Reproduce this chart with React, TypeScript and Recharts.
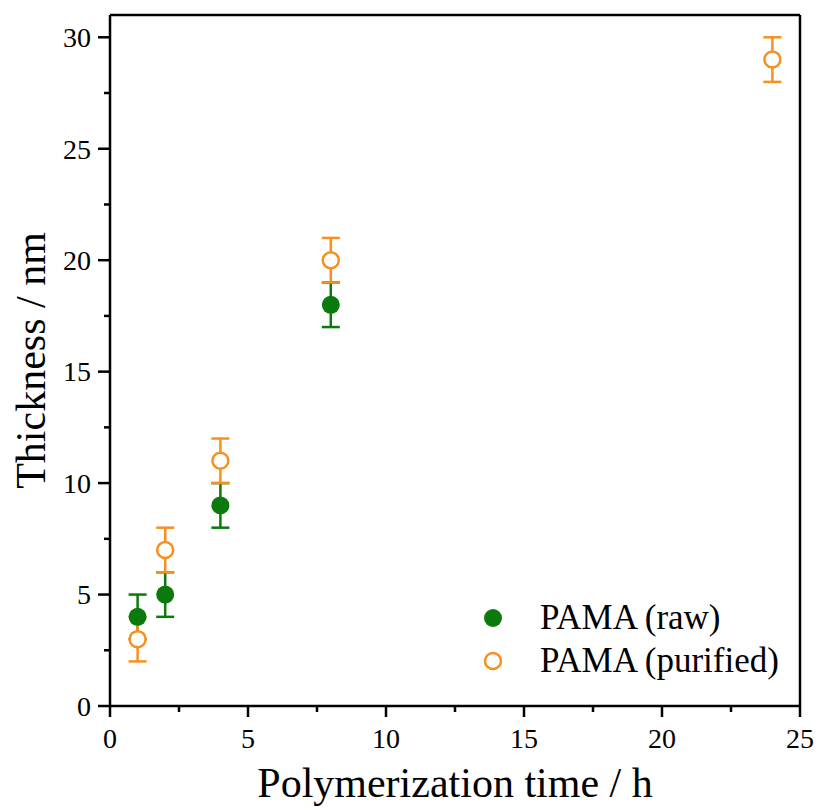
import {
  ErrorBar,
  Legend,
  ReferenceLine,
  Scatter,
  ScatterChart,
  XAxis,
  YAxis,
} from "recharts";

const rawTime = [1, 2, 4, 8];
const rawThickness = [4, 5, 9, 18];
const rawError = [1, 1, 1, 1];

const purifiedTime = [1, 2, 4, 8, 24];
const purifiedThickness = [3, 7, 11, 20, 29];
const purifiedError = [1, 1, 1, 1, 1];

const xTicks = [0, 2.5, 5, 7.5, 10, 12.5, 15, 17.5, 20, 22.5, 25];
const yTicks = [0, 2.5, 5, 7.5, 10, 12.5, 15, 17.5, 20, 22.5, 25, 27.5, 30];

const GREEN = "#0a7a0c";
const ORANGE = "#f7901e";
const FONT = '"Liberation Serif", "Times New Roman", serif';

const W = 818;
const H = 807;
const Y_AXIS_W = 110;
const X_AXIS_H = 101;
const AXIS_Y = H - X_AXIS_H;
const AXIS_X = Y_AXIS_W;

const rawData = rawTime.map((t, i) => ({
  time: t,
  thickness: rawThickness[i],
  err: rawError[i],
}));
const purifiedData = purifiedTime.map((t, i) => ({
  time: t,
  thickness: purifiedThickness[i],
  err: purifiedError[i],
}));

const isMajor = (v: number) => v % 5 === 0;

function XTick(props: any) {
  const { x, payload } = props;
  const major = isMajor(payload.value);
  return (
    <g>
      <line
        x1={x}
        x2={x}
        y1={AXIS_Y}
        y2={AXIS_Y + (major ? 11 : 6)}
        stroke="#000"
        strokeWidth={2.5}
      />
      {major && (
        <text
          x={x}
          y={AXIS_Y + 42}
          textAnchor="middle"
          fontFamily={FONT}
          fontSize={28}
          fill="#000"
        >
          {payload.value}
        </text>
      )}
    </g>
  );
}

function YTick(props: any) {
  const { y, payload } = props;
  const major = isMajor(payload.value);
  return (
    <g>
      <line
        x1={AXIS_X - (major ? 12 : 6)}
        x2={AXIS_X}
        y1={y}
        y2={y}
        stroke="#000"
        strokeWidth={2.5}
      />
      {major && (
        <text
          x={AXIS_X - 19}
          y={y}
          dy="0.35em"
          textAnchor="end"
          fontFamily={FONT}
          fontSize={28}
          fill="#000"
        >
          {payload.value}
        </text>
      )}
    </g>
  );
}

const series = [
  { name: "PAMA (raw)", color: GREEN, filled: true },
  { name: "PAMA (purified)", color: ORANGE, filled: false },
];

function LegendBox() {
  return (
    <div style={{ fontFamily: FONT, fontSize: 35, color: "#000" }}>
      {series.map((s) => (
        <div
          key={s.name}
          style={{ display: "flex", alignItems: "center", height: 43, lineHeight: "43px" }}
        >
          <svg width={20} height={20} style={{ marginRight: 37 }}>
            <circle
              cx={10}
              cy={10}
              r={s.filled ? 9 : 8}
              fill={s.filled ? s.color : "#fff"}
              stroke={s.filled ? "none" : s.color}
              strokeWidth={2.5}
            />
          </svg>
          <span style={{ whiteSpace: "nowrap" }}>{s.name}</span>
        </div>
      ))}
    </div>
  );
}

export default function App() {
  return (
    <div style={{ position: "absolute", left: 0, top: 0, width: W, height: H }}>
      <ScatterChart
        width={W}
        height={H}
        margin={{ top: 15, right: 18, bottom: 0, left: 0 }}
      >
        <XAxis
          type="number"
          dataKey="time"
          domain={[0, 25]}
          ticks={xTicks}
          interval={0}
          height={X_AXIS_H}
          tickLine={false}
          axisLine={{ stroke: "#000", strokeWidth: 2.5 }}
          tick={<XTick />}
          label={{
            content: (p: any) => {
              const vb = p.viewBox;
              return (
                <text
                  x={vb.x + vb.width / 2}
                  y={vb.y + 91}
                  textAnchor="middle"
                  fontFamily={FONT}
                  fontSize={42}
                  fill="#000"
                >
                  Polymerization time / h
                </text>
              );
            },
          }}
        />
        <YAxis
          type="number"
          dataKey="thickness"
          domain={[0, 31]}
          ticks={yTicks}
          interval={0}
          width={Y_AXIS_W}
          tickLine={false}
          axisLine={{ stroke: "#000", strokeWidth: 2.5 }}
          tick={<YTick />}
          label={{
            content: (p: any) => {
              const vb = p.viewBox;
              const cx = vb.x + 45;
              const cy = vb.y + vb.height / 2;
              return (
                <text
                  x={cx}
                  y={cy}
                  transform={`rotate(-90, ${cx}, ${cy})`}
                  textAnchor="middle"
                  fontFamily={FONT}
                  fontSize={42}
                  fill="#000"
                >
                  Thickness / nm
                </text>
              );
            },
          }}
        />
        <ReferenceLine y={31} stroke="#000" strokeWidth={2.5} />
        <ReferenceLine x={25} stroke="#000" strokeWidth={2.5} />
        <Scatter
          name="PAMA (raw)"
          data={rawData}
          isAnimationActive={false}
          shape={(p: any) => <circle cx={p.cx} cy={p.cy} r={9} fill={GREEN} />}
        >
          <ErrorBar
            dataKey="err"
            direction="y"
            width={9}
            stroke={GREEN}
            strokeWidth={2.5}
            isAnimationActive={false}
          />
        </Scatter>
        <Scatter
          name="PAMA (purified)"
          data={purifiedData}
          isAnimationActive={false}
          shape={(p: any) => (
            <circle
              cx={p.cx}
              cy={p.cy}
              r={8}
              fill="#fff"
              stroke={ORANGE}
              strokeWidth={2.5}
            />
          )}
        >
          <ErrorBar
            dataKey="err"
            direction="y"
            width={9}
            stroke={ORANGE}
            strokeWidth={2.5}
            isAnimationActive={false}
          />
        </Scatter>
        <Legend
          layout="vertical"
          align="center"
          verticalAlign="middle"
          wrapperStyle={{ left: 483, top: 596, width: 330 }}
          content={() => <LegendBox />}
        />
      </ScatterChart>
    </div>
  );
}
